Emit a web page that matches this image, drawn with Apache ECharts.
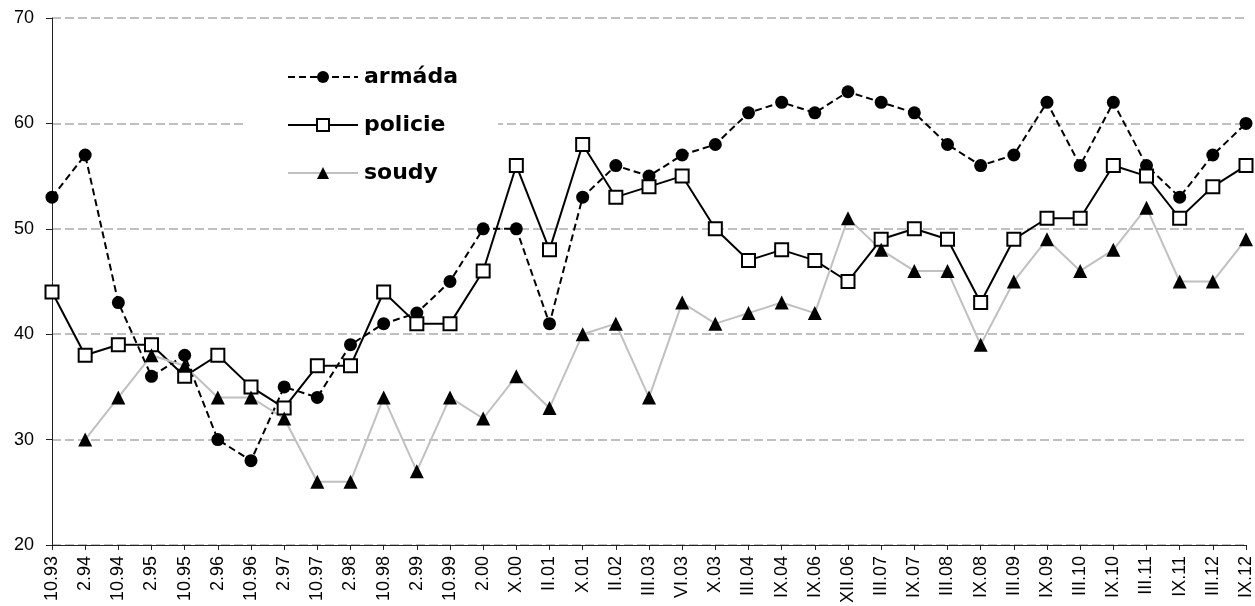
<!DOCTYPE html>
<html>
<head>
<meta charset="utf-8">
<script src="https://cdn.jsdelivr.net/npm/echarts@6/dist/echarts.min.js"></script>
<style>html,body{margin:0;padding:0;background:#fff}#c{width:1255px;height:606px}</style>
</head>
<body>
<div id="c"></div>
<script>
const categories = ['10.93','2.94','10.94','2.95','10.95','2.96','10.96','2.97','10.97','2.98','10.98','2.99','10.99','2.00','X.00','II.01','X.01','II.02','III.03','VI.03','X.03','III.04','IX.04','IX.06','XII.06','III.07','IX.07','III.08','IX.08','III.09','IX.09','III.10','IX.10','III.11','IX.11','III.12','IX.12'];
const armada = [53,57,43,36,38,30,28,35,34,39,41,42,45,50,50,41,53,56,55,57,58,61,62,61,63,62,61,58,56,57,62,56,62,56,53,57,60];
const policie = [44,38,39,39,36,38,35,33,37,37,44,41,41,46,56,48,58,53,54,55,50,47,48,47,45,49,50,49,43,49,51,51,56,55,51,54,56];
const soudy = [null,30,34,38,37,34,34,32,26,26,34,27,34,32,36,33,40,41,34,43,41,42,43,42,51,48,46,46,39,45,49,46,48,52,45,45,49];
const yTicks = {min: 20, max: 70, interval: 10};

const chart = echarts.init(document.getElementById('c'), null, {renderer: 'canvas'});
chart.setOption({
  animation: false,
  backgroundColor: '#fff',
  grid: {left: 52, right: 6, top: 18, bottom: 61, containLabel: false},
  legend: {
    orient: 'vertical',
    left: 245,
    top: 56,
    padding: [10, 40, 10, 42],
    backgroundColor: '#fff',
    itemGap: 26,
    itemWidth: 70,
    itemHeight: 15,
    textStyle: {fontFamily: 'DejaVu Sans', fontWeight: 'bold', fontSize: 22, lineHeight: 22, color: '#000', padding: [0, 0, 0, 1]},
    data: ['armáda', 'policie', 'soudy']
  },
  xAxis: {
    type: 'category',
    data: categories,
    boundaryGap: false,
    axisLine: {lineStyle: {color: '#222', width: 1}},
    axisTick: {show: true, length: 5, lineStyle: {color: '#222'}},
    axisLabel: {rotate: 90, interval: 0, fontFamily: 'Liberation Sans', fontSize: 18, color: '#000', margin: 11},
    splitLine: {show: false}
  },
  yAxis: {
    type: 'value',
    min: yTicks.min, max: yTicks.max, interval: yTicks.interval,
    axisLine: {show: true, lineStyle: {color: '#222', width: 1}},
    axisTick: {show: true, length: 6, lineStyle: {color: '#222'}},
    axisLabel: {fontFamily: 'Liberation Sans', fontSize: 18, color: '#000', margin: 18},
    splitLine: {show: true, lineStyle: {color: '#c0c0c0', width: 2, type: [9, 4]}}
  },
  series: [
    {
      name: 'armáda', type: 'line', data: armada,
      symbol: 'circle', symbolSize: 13,
      lineStyle: {color: '#000', width: 2, type: [7, 4]},
      itemStyle: {color: '#000', borderWidth: 0}
    },
    {
      name: 'policie', type: 'line', data: policie,
      symbol: 'rect', symbolSize: 13,
      lineStyle: {color: '#000', width: 2, type: 'solid'},
      itemStyle: {color: '#fff', borderColor: '#000', borderWidth: 2}
    },
    {
      name: 'soudy', type: 'line', data: soudy,
      symbol: 'triangle', symbolSize: 14,
      lineStyle: {color: '#c0c0c0', width: 2, type: 'solid'},
      itemStyle: {color: '#000', borderWidth: 0}
    }
  ]
});
</script>
</body>
</html>
